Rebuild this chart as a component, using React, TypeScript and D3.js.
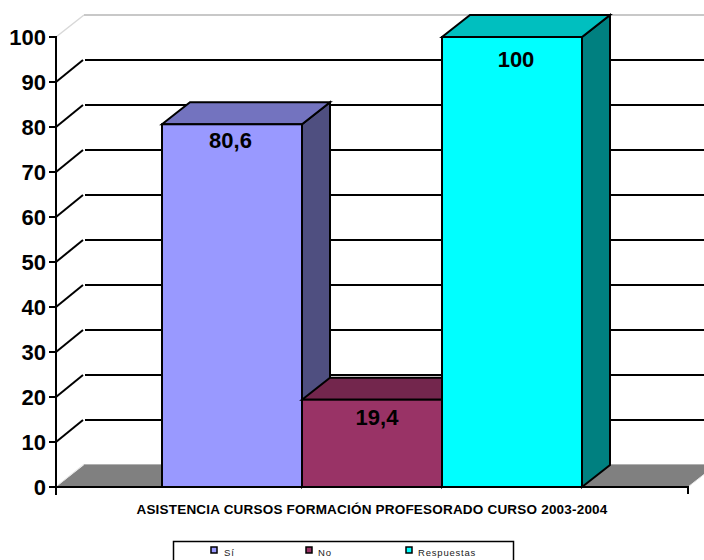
import React from "react";
import * as d3 from "d3";

const categories = ["Sí", "No", "Respuestas"];
const values = [80.6, 19.4, 100];
const valueLabels = ["80,6", "19,4", "100"];
const frontColors = ["#9999ff", "#993366", "#00ffff"];
const topColors = ["#7373bf", "#73264d", "#00bfbf"];
const sideColors = ["#4f4f80", "#73264d", "#008080"];
const yTicks = [0, 10, 20, 30, 40, 50, 60, 70, 80, 90, 100];
const backGridYs = [10, 20, 30, 40, 50, 60, 70, 80, 90];
const xTitle = "ASISTENCIA CURSOS FORMACIÓN PROFESORADO CURSO 2003-2004";

const DX = 28;
const DY = -22;
const font = "'Liberation Sans', Arial, sans-serif";

export default function App() {
  const y = d3.scaleLinear().domain([0, 100]).range([487, 37]);
  const x = d3.scaleBand<string>().domain(categories).range([162, 582]).paddingInner(0).paddingOuter(0);
  const bw = x.bandwidth();
  const x0 = 56;
  const x1 = 688;
  const y0 = y(0);
  const labelDx = [-1.5, 5, 4];
  const labelDy = [24, 25, 30];
  const legendSwatchX = [214, 309, 409];
  const legendTextX = [224, 318, 418];
  return (
    <svg
      width={704}
      height={560}
      viewBox="0 0 704 560"
      style={{ position: "absolute", left: 0, top: 0, background: "#fff", fontFamily: font }}
    >
      {/* floor */}
      <polygon points={`${x0},${y0} ${x0 + DX},${y0 + DY} ${x1 + DX},${y0 + DY} ${x1},${y0}`} fill="#808080" />
      <line x1={x0 + 2} y1={y0 - 2} x2={x0 + DX} y2={y0 + DY - 1} stroke="#e4e4e4" strokeWidth={1} />
      <line x1={x0 + DX} y1={y0 + DY - 0.5} x2={704} y2={y0 + DY - 0.5} stroke="#b0b0b0" strokeWidth={1} />
      <line x1={x1} y1={y0} x2={x1 + DX} y2={y0 + DY} stroke="#e8e8e8" strokeWidth={1} />

      {/* top frame */}
      <line x1={x0} y1={y(100)} x2={x0 + DX} y2={y(100) + DY} stroke="#d8d8d8" strokeWidth={1.5} />
      <line x1={x0 + DX} y1={y(100) + DY} x2={704} y2={y(100) + DY} stroke="#c8c8c8" strokeWidth={2} />

      {/* gridlines */}
      {backGridYs.map((v) => (
        <g key={v} stroke="#000" strokeWidth={2}>
          <line x1={x0} y1={y(v)} x2={x0 + DX - 1} y2={y(v) + DY} />
          <line x1={x0 + DX + 1} y1={y(v) + DY} x2={704} y2={y(v) + DY} />
        </g>
      ))}

      {/* bars */}
      {categories.map((c, i) => {
        const left = x(c)!;
        const right = left + bw;
        const top = y(values[i]);
        return (
          <g key={c} stroke="#000" strokeWidth={2} strokeLinejoin="miter">
            <polygon
              points={`${right},${top} ${right + DX},${top + DY} ${right + DX},${y0 + DY} ${right},${y0}`}
              fill={sideColors[i]}
            />
            <polygon
              points={`${left},${top} ${left + DX},${top + DY} ${right + DX},${top + DY} ${right},${top}`}
              fill={topColors[i]}
            />
            <rect x={left} y={top} width={bw} height={y0 - top} fill={frontColors[i]} />
          </g>
        );
      })}

      {/* axes */}
      <line x1={x0} y1={y(100) - 1} x2={x0} y2={y0 + 8} stroke="#000" strokeWidth={2} />
      <line x1={x0 - 7} y1={y0} x2={x1} y2={y0} stroke="#000" strokeWidth={2} />
      <line x1={x1} y1={y0 - 1} x2={x1} y2={y0 + 7} stroke="#000" strokeWidth={2} />
      {yTicks.map((t) => (
        <g key={t}>
          <line x1={x0 - 7} y1={y(t)} x2={x0} y2={y(t)} stroke="#000" strokeWidth={2} />
          <text x={46} y={y(t) + 8} textAnchor="end" fontSize={22} fontWeight={700} fill="#000">
            {t}
          </text>
        </g>
      ))}

      {/* value labels */}
      {categories.map((c, i) => (
        <text
          key={c}
          x={x(c)! + bw / 2 + labelDx[i]}
          y={y(values[i]) + labelDy[i]}
          textAnchor="middle"
          fontSize={22}
          fontWeight={700}
          fill="#000"
        >
          {valueLabels[i]}
        </text>
      ))}

      {/* axis title */}
      <text x={372} y={514} textAnchor="middle" fontSize={13.5} letterSpacing={0.2} fontWeight={700} fill="#000">
        {xTitle}
      </text>

      {/* legend */}
      <rect x={173.5} y={541.5} width={340} height={30} fill="#fff" stroke="#000" strokeWidth={1.5} />
      {categories.map((c, i) => (
        <g key={c}>
          <rect x={legendSwatchX[i] - 3} y={547} width={6} height={6} fill={frontColors[i]} stroke="#000" strokeWidth={1.5} />
          <text x={legendTextX[i]} y={556} fontSize={9.5} letterSpacing={0.8} fill="#222">
            {c}
          </text>
        </g>
      ))}
    </svg>
  );
}
